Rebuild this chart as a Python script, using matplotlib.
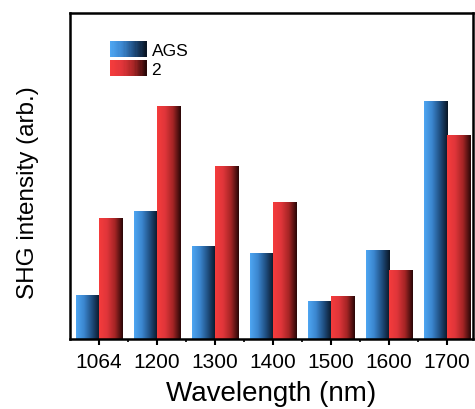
import numpy as np
import matplotlib
matplotlib.use("Agg")
import matplotlib.pyplot as plt
from matplotlib.colors import LinearSegmentedColormap
from matplotlib.patches import Rectangle
from matplotlib.legend_handler import HandlerBase

plt.rcParams['font.family'] = ['Liberation Sans', 'DejaVu Sans']

wavelengths = ["1064", "1200", "1300", "1400", "1500", "1600", "1700"]
ags = [0.44, 1.28, 0.93, 0.86, 0.38, 0.89, 2.38]
comp2 = [1.21, 2.33, 1.73, 1.37, 0.43, 0.69, 2.04]
labels = ["AGS", "2"]

blue_cm = LinearSegmentedColormap.from_list("b", ["#4ea6f2", "#3b86cf", "#1f4e80", "#0a1626"])
red_cm = LinearSegmentedColormap.from_list("r", ["#f53c3c", "#e0353a", "#a52525", "#2a0707"])
grad = np.linspace(0, 1, 64).reshape(1, -1)


class GradHandler(HandlerBase):
    def __init__(self, cmap):
        super().__init__()
        self.cmap = cmap

    def create_artists(self, legend, orig_handle, xdescent, ydescent, width, height, fontsize, trans):
        n = 30
        arts = []
        for i in range(n):
            r = Rectangle((-xdescent + width * i / n, -ydescent), width / n + 0.3, height,
                          facecolor=self.cmap(i / (n - 1)), edgecolor='none', transform=trans)
            arts.append(r)
        return arts


fig = plt.figure(figsize=(4.75, 4.1), dpi=100)
ax = fig.add_axes([0.1474, 0.1707, 0.8484, 0.795])

w = 0.4
x = np.arange(len(wavelengths))
for i in range(len(x)):
    ax.imshow(grad, cmap=blue_cm, aspect='auto', extent=(x[i] - w, x[i], 0, ags[i]), zorder=2)
    ax.imshow(grad, cmap=red_cm, aspect='auto', extent=(x[i], x[i] + w, 0, comp2[i]), zorder=2)

ax.set_xlim(-0.5, 6.45)
ax.set_ylim(0, 3.26)
ax.set_xticks(x)
ax.set_xticklabels(wavelengths, fontsize=15)
ax.set_xticks(x[:-1] + 0.5, minor=True)
ax.set_yticks([])
ax.tick_params(axis='x', which='major', direction='out', length=4, width=1.5, pad=5.5)
ax.tick_params(axis='x', which='minor', direction='out', length=2.5, width=1.2)
for s in ax.spines.values():
    s.set_linewidth(1.8)
ax.set_xlabel("Wavelength (nm)", fontsize=20, labelpad=6)
ax.set_ylabel("SHG intensity (arb.)", fontsize=17.5)
ax.yaxis.set_label_coords(-0.077, 0.451)

h1 = Rectangle((0, 0), 1, 1)
h2 = Rectangle((0, 0), 1, 1)
ax.legend([h1, h2], labels, handler_map={h1: GradHandler(blue_cm), h2: GradHandler(red_cm)},
          loc='upper left', bbox_to_anchor=(0.099, 0.915), frameon=False, fontsize=12.5,
          handlelength=2.1, handleheight=1.05, labelspacing=0.12, handletextpad=0.3, borderpad=0,
          borderaxespad=0)

fig.savefig("out.png", dpi=100)
